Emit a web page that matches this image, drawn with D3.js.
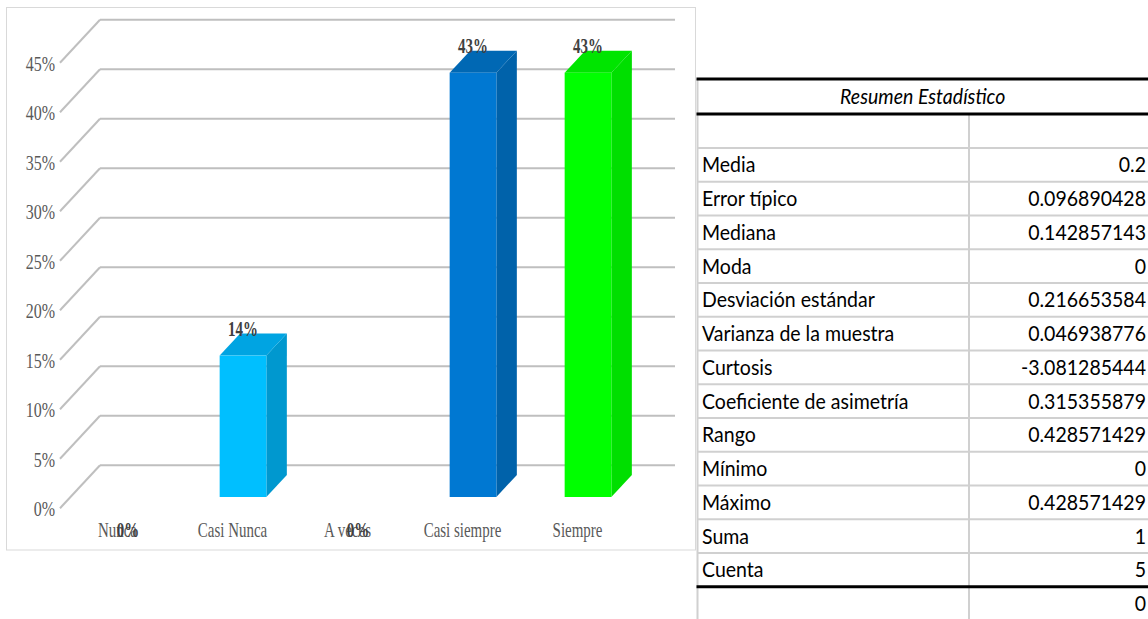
<!DOCTYPE html>
<html>
<head>
<meta charset="utf-8">
<script src="https://cdn.jsdelivr.net/npm/d3@7"></script>
<style>
  html, body { margin: 0; padding: 0; background: #ffffff; }
  svg { display: block; }
</style>
</head>
<body>
<svg id="chart" width="1148" height="619"></svg>
<script>
// ---- data ----
const categories = ["Nunca", "Casi Nunca", "A veces", "Casi siempre", "Siempre"];
const values = [0, 0.142857143, 0, 0.428571429, 0.428571429];
const yTicks = [0, 0.05, 0.10, 0.15, 0.20, 0.25, 0.30, 0.35, 0.40, 0.45];

const tableTitle = "Resumen Estadístico";
const statNames = ["Media", "Error típico", "Mediana", "Moda", "Desviación estándar",
  "Varianza de la muestra", "Curtosis", "Coeficiente de asimetría", "Rango",
  "Mínimo", "Máximo", "Suma", "Cuenta"];
const statValues = ["0.2", "0.096890428", "0.142857143", "0", "0.216653584",
  "0.046938776", "-3.081285444", "0.315355879", "0.428571429",
  "0", "0.428571429", "1", "5"];
const trailingValue = "0";

// ---- styling ----
const faceColors = {
  "Casi Nunca":   { front: "#00BFFF", side: "#0098CF", top: "#00A4E2" },
  "Casi siempre": { front: "#0078D2", side: "#0062AA", top: "#0068B4" },
  "Siempre":      { front: "#00FF00", side: "#00DF00", top: "#00E500" },
  "Nunca":        { front: "#5B9BD5", side: "#4A7FB0", top: "#5088C0" },
  "A veces":      { front: "#ED7D31", side: "#C86A29", top: "#D8722D" }
};
const gridColor = "#BFBFBF";
const axisTextColor = "#595959";
const labelTextColor = "#404040";

const svg = d3.select("#chart");

// text drawn horizontally condensed around its anchor point
function condensedText(g, x, y, str, opt) {
  return g.append("text")
    .attr("transform", `translate(${x},${y}) scale(${opt.sx},1)`)
    .attr("text-anchor", opt.anchor || "start")
    .attr("font-family", opt.family)
    .attr("font-size", opt.size)
    .attr("font-weight", opt.weight || "normal")
    .attr("font-style", opt.style || "normal")
    .attr("fill", opt.fill)
    .text(str);
}

// ---- chart frame ----
svg.append("rect")
  .attr("x", 6.5).attr("y", 7.5)
  .attr("width", 689).attr("height", 542.5)
  .attr("fill", "#fff").attr("stroke", "#D9D9D9").attr("stroke-width", 1);

// back wall geometry and 3D depth offsets
const wallLeft = 100, wallRight = 675;
const fullDepth = { dx: -40, dy: 43 };     // back wall -> front edge of the floor
const barFront = { dx: -29.5, dy: 31.7 };  // back wall -> bar front face
const barBack = { dx: -9, dy: 9.7 };       // back wall -> bar back face

const y = d3.scaleLinear().domain([0, 0.45]).range([465.3, 19.8]);
const x = d3.scaleBand().domain(categories).range([wallLeft, wallRight]).padding(0);
const barW = x.bandwidth() * 0.406;

const serif = "'Liberation Serif', 'Times New Roman', serif";

// gridlines: back wall + side wall diagonal
const grid = svg.append("g");
yTicks.forEach(t => {
  grid.append("line")
    .attr("x1", wallLeft).attr("x2", wallRight)
    .attr("y1", y(t)).attr("y2", y(t))
    .attr("stroke", gridColor).attr("stroke-width", 2);
  grid.append("line")
    .attr("x1", wallLeft).attr("y1", y(t))
    .attr("x2", wallLeft + fullDepth.dx).attr("y2", y(t) + fullDepth.dy)
    .attr("stroke", gridColor).attr("stroke-width", 2);
});

// y-axis tick labels at the front end of each diagonal
const pct = d3.format(".0%");
const yAxisG = svg.append("g");
yTicks.forEach(t => {
  condensedText(yAxisG, 55, y(t) + fullDepth.dy + 8, pct(t),
    { sx: 0.8, anchor: "end", family: serif, size: 20, fill: axisTextColor });
});

// category labels along the front floor edge
const catG = svg.append("g");
categories.forEach(c => {
  const cx = x(c) + x.bandwidth() / 2 + fullDepth.dx;
  condensedText(catG, cx, 537, c,
    { sx: 0.68, anchor: "middle", family: serif, size: 22, fill: axisTextColor });
});

// 3D columns
const barsG = svg.append("g");
categories.forEach((c, i) => {
  const v = values[i];
  if (v <= 0) return;
  const col = faceColors[c];
  const cx = x(c) + x.bandwidth() / 2;
  const fl = cx - barW / 2 + barFront.dx, fr = cx + barW / 2 + barFront.dx;
  const bdx = barBack.dx - barFront.dx, bdy = barBack.dy - barFront.dy;
  const ft = y(v) + barFront.dy, fb = y(0) + barFront.dy;
  // side face
  barsG.append("polygon")
    .attr("points", [[fr, ft], [fr + bdx, ft + bdy], [fr + bdx, fb + bdy], [fr, fb]].join(" "))
    .attr("fill", col.side);
  // top face
  barsG.append("polygon")
    .attr("points", [[fl, ft], [fl + bdx, ft + bdy], [fr + bdx, ft + bdy], [fr, ft]].join(" "))
    .attr("fill", col.top);
  // front face
  barsG.append("rect")
    .attr("x", fl).attr("y", ft)
    .attr("width", fr - fl).attr("height", fb - ft)
    .attr("fill", col.front);
});

// value labels
const valG = svg.append("g");
categories.forEach((c, i) => {
  const v = values[i];
  const cx = x(c) + x.bandwidth() / 2 + barFront.dx;
  const ft = y(v) + barFront.dy;
  const ly = v > 0 ? ft - 20 : ft + 40;
  condensedText(valG, cx, ly, pct(v),
    { sx: 0.68, anchor: "middle", family: serif, size: 22, weight: "bold", fill: labelTextColor });
});

// ---- statistics table ----
const tbl = svg.append("g");
const tLeft = 697.5, tRight = 1148, tDiv = 969;
const headTop = 79, headBottom = 114, blankBottom = 148, rowH = 33.75;
const rowsBottom = blankBottom + rowH * statNames.length;
const sans = "Lato, 'Noto Sans', sans-serif";
const lineGrey = "#D0D0D0";

// grey row separators
for (let k = 0; k < statNames.length; k++) {
  const yy = blankBottom + rowH * k;
  tbl.append("line").attr("x1", tLeft).attr("x2", tRight)
    .attr("y1", yy).attr("y2", yy).attr("stroke", lineGrey).attr("stroke-width", 2);
}
// vertical borders
tbl.append("line").attr("x1", tLeft).attr("x2", tLeft)
  .attr("y1", headTop).attr("y2", 619).attr("stroke", lineGrey).attr("stroke-width", 2);
tbl.append("line").attr("x1", tDiv).attr("x2", tDiv)
  .attr("y1", headBottom).attr("y2", 619).attr("stroke", lineGrey).attr("stroke-width", 2);
// heavy rules
[headTop, headBottom, rowsBottom].forEach(yy => {
  tbl.append("line").attr("x1", tLeft - 1).attr("x2", tRight)
    .attr("y1", yy).attr("y2", yy).attr("stroke", "#000").attr("stroke-width", 3);
});

const tSize = 21, tSx = 0.93;
condensedText(tbl, (tLeft + tRight) / 2, (headTop + headBottom) / 2 + 7.5, tableTitle,
  { sx: tSx, anchor: "middle", family: sans, size: tSize, style: "italic", fill: "#000" });

statNames.forEach((n, k) => {
  const cy = blankBottom + rowH * k + rowH / 2 + 7.5;
  condensedText(tbl, 702, cy, n, { sx: tSx, family: sans, size: tSize, fill: "#000" });
  condensedText(tbl, 1146, cy, statValues[k], { sx: tSx, anchor: "end", family: sans, size: tSize, fill: "#000" });
});
condensedText(tbl, 1146, rowsBottom + rowH / 2 + 7.5, trailingValue,
  { sx: tSx, anchor: "end", family: sans, size: tSize, fill: "#000" });
</script>
</body>
</html>
